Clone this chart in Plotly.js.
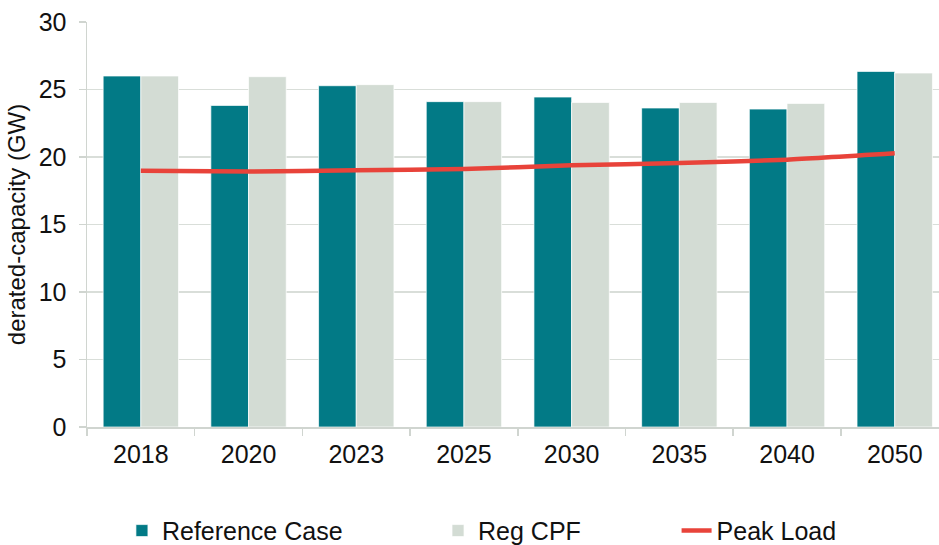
<!DOCTYPE html>
<html>
<head>
<meta charset="utf-8">
<script src="https://cdn.plot.ly/plotly-3.0.1.min.js"></script>
<style>html,body{margin:0;padding:0;background:#fff;}#chart{width:939px;height:545px;}</style>
</head>
<body>
<div id="chart"></div>
<script>
const years = ["2018", "2020", "2023", "2025", "2030", "2035", "2040", "2050"];
const referenceCase = [26.0, 23.82, 25.28, 24.1, 24.44, 23.63, 23.55, 26.34];
const regCPF = [26.0, 25.95, 25.36, 24.1, 24.04, 24.04, 23.97, 26.22];
const peakLoad = [18.98, 18.93, 19.01, 19.11, 19.38, 19.55, 19.8, 20.27];
const yTicks = [0, 5, 10, 15, 20, 25, 30];

const FONT = "Liberation Sans, Arial, sans-serif";
const gridColor = "#d9ded9";

const traces = [
  {
    type: "bar", name: "Reference Case", x: years, y: referenceCase,
    marker: {color: "#027a86", line: {color: "rgba(255,255,255,0.7)", width: 1}},
    legend: "legend"
  },
  {
    type: "bar", name: "Reg CPF", x: years, y: regCPF,
    marker: {color: "#d3dcd4", line: {color: "rgba(255,255,255,0.7)", width: 1}},
    legend: "legend2"
  },
  {
    type: "scatter", mode: "lines", name: "Peak Load", x: years, y: peakLoad,
    line: {color: "#e8433a", width: 4.5, shape: "spline", smoothing: 0.6},
    legend: "legend3"
  }
];

const legendBase = {
  orientation: "h", yref: "container", yanchor: "middle", y: 0.026, xanchor: "left",
  font: {family: FONT, size: 25, color: "#111"}, bgcolor: "rgba(0,0,0,0)"
};

const layout = {
  width: 939, height: 545,
  margin: {l: 87, r: 0, t: 22, b: 118, autoexpand: false},
  paper_bgcolor: "#fff", plot_bgcolor: "#fff",
  font: {family: FONT, color: "#111"},
  barmode: "group", bargap: 0.30, bargroupgap: 0,
  showlegend: true,
  legend: Object.assign({}, legendBase, {x: 0.041}),
  legend2: Object.assign({}, legendBase, {x: 0.412}),
  legend3: Object.assign({}, legendBase, {x: 0.692}),
  xaxis: {
    type: "category", range: [-0.5, 7.411],
    showline: true, linecolor: "#d0d5d0", linewidth: 1.5,
    ticks: "outside", tickson: "boundaries", ticklen: 7, tickcolor: "#d0d5d0", tickwidth: 1.5,
    tickfont: {family: FONT, size: 25, color: "#111"},
    ticklabelstandoff: 4,
    showgrid: false, fixedrange: true
  },
  yaxis: {
    range: [0, 30], tickvals: yTicks, ticktext: yTicks.map(String),
    showline: true, linecolor: "#d0d5d0", linewidth: 1.5,
    ticks: "outside", ticklen: 7, tickcolor: "#d0d5d0", tickwidth: 1.5,
    showgrid: true, gridcolor: gridColor, gridwidth: 1.5, zeroline: false,
    tickfont: {family: FONT, size: 25, color: "#111"},
    ticklabelstandoff: 7,
    title: {text: "derated-capacity (GW)", font: {family: FONT, size: 24, color: "#111"}, standoff: 6},
    fixedrange: true
  }
};

Plotly.newPlot("chart", traces, layout, {displayModeBar: false, staticPlot: true});
</script>
</body>
</html>
